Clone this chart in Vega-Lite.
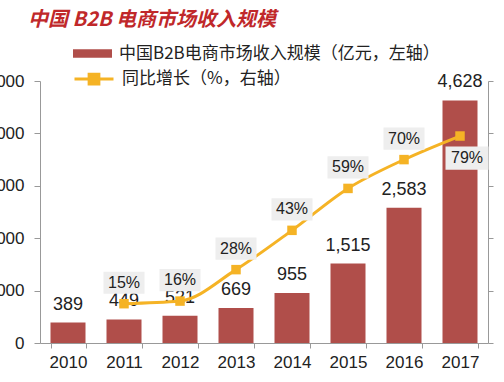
{
  "$schema": "https://vega.github.io/schema/vega-lite/v6.json",
  "width": 448,
  "height": 262,
  "autosize": {"type": "none"},
  "padding": {"left": 40, "top": 81, "right": 16, "bottom": 39},
  "background": "white",
  "config": {
    "view": {"stroke": null},
    "font": "Liberation Sans",
    "axis": {"domainColor": "#999999", "tickColor": "#999999", "labelColor": "#222222", "grid": false, "title": null}
  },
  "title": {
    "text": "中国 B2B 电商市场收入规模",
    "anchor": "start",
    "frame": "group",
    "dx": -12,
    "font": "Noto Sans CJK SC",
    "fontSize": 20,
    "fontStyle": "italic",
    "fontWeight": "bold",
    "color": "#C0282A"
  },
  "data": {
    "values": [
      {"year": "2010", "revenue": 389, "growth": null},
      {"year": "2011", "revenue": 449, "growth": 0.15},
      {"year": "2012", "revenue": 521, "growth": 0.16},
      {"year": "2013", "revenue": 669, "growth": 0.28},
      {"year": "2014", "revenue": 955, "growth": 0.43},
      {"year": "2015", "revenue": 1515, "growth": 0.59},
      {"year": "2016", "revenue": 2583, "growth": 0.70},
      {"year": "2017", "revenue": 4628, "growth": 0.79}
    ]
  },
  "encoding": {
    "x": {
      "field": "year",
      "type": "ordinal",
      "scale": {"paddingInner": 0.375, "paddingOuter": 0.1875},
      "axis": {"labelAngle": 0, "labelFontSize": 17, "labelPadding": 6, "tickSize": 5, "tickBand": "extent"}
    }
  },
  "layer": [
    {
      "layer": [
        {
          "mark": {"type": "bar", "color": "#B04E4A"},
          "encoding": {
            "y": {
              "field": "revenue",
              "type": "quantitative",
              "scale": {"domain": [0, 5000]},
              "axis": {"values": [0, 1000, 2000, 3000, 4000, 5000], "labelExpr": "format(datum.value, ',')", "labelFontSize": 17, "labelPadding": 10, "tickSize": 6}
            },
            "fill": {
              "datum": "中国B2B电商市场收入规模（亿元，左轴）",
              "scale": {"range": ["#B04E4A"]},
              "legend": {
                "orient": "none", "legendX": 33, "legendY": -47, "title": null, "padding": 0,
                "symbolType": "M-1,-0.22H1V0.22H-1Z", "symbolSize": 1521, "symbolStrokeWidth": 0,
                "labelFont": "Noto Sans CJK SC", "labelFontSize": 17, "labelColor": "#222222", "labelOffset": 7, "labelLimit": 500
              }
            }
          }
        },
        {
          "mark": {"type": "text", "baseline": "alphabetic", "dy": -13, "fontSize": 18, "color": "#222222"},
          "encoding": {
            "y": {"field": "revenue", "type": "quantitative"},
            "text": {"field": "revenue", "type": "quantitative", "format": ","}
          }
        }
      ]
    },
    {
      "transform": [{"filter": "datum.growth != null"}],
      "layer": [
        {
          "mark": {"type": "line", "interpolate": "monotone", "strokeWidth": 3},
          "encoding": {
            "y": {
              "field": "growth",
              "type": "quantitative",
              "scale": {"domain": [0, 1]},
              "axis": {"orient": "right", "values": [0, 0.2, 0.4, 0.6, 0.8, 1], "labelExpr": "format(datum.value, '.0%')", "labelFontSize": 17, "labelPadding": 15, "tickSize": 5}
            },
            "stroke": {
              "datum": "同比增长（%，右轴）",
              "scale": {"range": ["#F5B325"]},
              "legend": {
                "orient": "none", "legendX": 33, "legendY": -23, "title": null, "padding": 0,
                "symbolType": "M-1,0H1M-0.25,-0.25H0.25V0.25H-0.25Z", "symbolSize": 1521, "symbolStrokeWidth": 3,
                "labelFont": "Noto Sans CJK SC", "labelFontSize": 17, "labelColor": "#222222", "labelOffset": 7, "labelLimit": 500,
                "encode": {"symbols": {"update": {"fill": {"value": "#F5B325"}}}}
              }
            }
          }
        },
        {
          "mark": {"type": "point", "shape": "square", "filled": true, "size": 90, "color": "#F5B325", "opacity": 1},
          "encoding": {"y": {"field": "growth", "type": "quantitative"}}
        },
        {
          "transform": [{"filter": "datum.year != '2017'"}],
          "layer": [
            {
              "mark": {"type": "point", "shape": "M-1,-0.54H1V0.54H-1Z", "filled": true, "size": 1681, "color": "#EEEEEE", "opacity": 1, "yOffset": -21},
              "encoding": {"y": {"field": "growth", "type": "quantitative"}}
            },
            {
              "mark": {"type": "text", "baseline": "middle", "dy": -21, "fontSize": 16, "color": "#222222"},
              "encoding": {
                "y": {"field": "growth", "type": "quantitative"},
                "text": {"field": "growth", "type": "quantitative", "format": ".0%"}
              }
            }
          ]
        },
        {
          "transform": [{"filter": "datum.year == '2017'"}],
          "layer": [
            {
              "mark": {"type": "point", "shape": "M-1,-0.54H1V0.54H-1Z", "filled": true, "size": 1849, "color": "#EEEEEE", "opacity": 1, "xOffset": 7, "yOffset": 22},
              "encoding": {"y": {"field": "growth", "type": "quantitative"}}
            },
            {
              "mark": {"type": "text", "baseline": "middle", "dx": 7, "dy": 22, "fontSize": 16, "color": "#222222"},
              "encoding": {
                "y": {"field": "growth", "type": "quantitative"},
                "text": {"field": "growth", "type": "quantitative", "format": ".0%"}
              }
            }
          ]
        }
      ]
    }
  ],
  "resolve": {"scale": {"y": "independent"}}
}
